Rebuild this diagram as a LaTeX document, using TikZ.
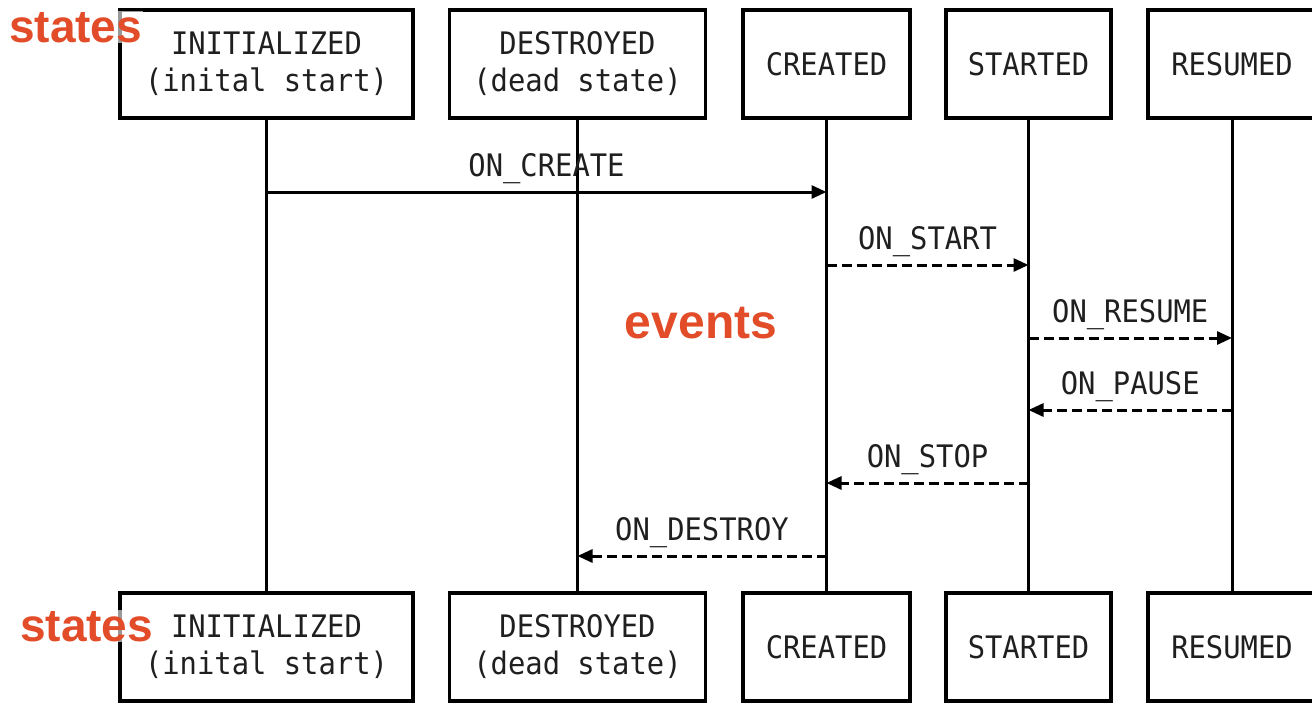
\documentclass[tikz,border=0pt]{standalone}
\usepackage{fontspec}
\setmainfont{Liberation Sans}
\setmonofont{DejaVu Sans Mono}
\newfontfamily\boxfont[FakeStretch=0.93]{DejaVu Sans Mono}
\usepackage{xcolor}
\usetikzlibrary{arrows.meta,positioning}

\definecolor{tagred}{RGB}{226,76,40}

\begin{document}
\begin{tikzpicture}[
  x=1pt, y=-1pt,
  state/.style={draw, line width=3.4pt, minimum height=108pt, inner sep=0pt, align=center,
    text=black!88, font=\boxfont\fontsize{31}{37}\selectfont},
  life/.style={line width=3pt},
  msg/.style={line width=3pt, -{Triangle[length=15pt,width=13pt]}},
  back/.style={msg, dash pattern=on 10pt off 5pt},
  lbl/.style={midway, anchor=base, yshift=16pt, inner sep=0pt, text=black!88,
    font=\boxfont\fontsize{31}{37}\selectfont},
  tag/.style={anchor=base west, inner sep=1pt, fill=white, fill opacity=0.6, text opacity=1,
    text=tagred, font=\bfseries\fontsize{46}{46}\selectfont}
]
\useasboundingbox (0,0) rectangle (1312,702);

% states on top
\node[state, minimum width=293pt] (init) at (266.5,64) {INITIALIZED\\(inital start)};
\node[state, minimum width=256pt] (dest) at (577.5,64) {DESTROYED\\(dead state)};
\node[state, minimum width=167pt] (created) at (826.5,64) {CREATED};
\node[state, minimum width=165pt] (started) at (1028.5,64) {STARTED};
\node[state, minimum width=168pt] (resumed) at (1232,64) {RESUMED};

% the same states at the bottom
\node[state, minimum width=293pt] (initB) at (266.5,647) {INITIALIZED\\(inital start)};
\node[state, minimum width=256pt] (destB) at (577.5,647) {DESTROYED\\(dead state)};
\node[state, minimum width=167pt] (createdB) at (826.5,647) {CREATED};
\node[state, minimum width=165pt] (startedB) at (1028.5,647) {STARTED};
\node[state, minimum width=168pt] (resumedB) at (1232,647) {RESUMED};

% lifelines
\draw[life] (init.south) -- (initB.north);
\draw[life] (dest.south) -- (destB.north);
\draw[life] (created.south) -- (createdB.north);
\draw[life] (started.south) -- (startedB.north);
\draw[life] (resumed.south) -- (resumedB.north);

% events
\draw[msg] (init.south |- 0,192) -- node[lbl] {ON\_CREATE} (created.south |- 0,192);
\draw[back] (created.south |- 0,265) -- node[lbl] {ON\_START} (started.south |- 0,265);
\draw[back] (started.south |- 0,338) -- node[lbl] {ON\_RESUME} (resumed.south |- 0,338);
\draw[back] (resumed.south |- 0,410) -- node[lbl] {ON\_PAUSE} (started.south |- 0,410);
\draw[back] (started.south |- 0,483) -- node[lbl] {ON\_STOP} (created.south |- 0,483);
\draw[back] (created.south |- 0,556) -- node[lbl] {ON\_DESTROY} (dest.south |- 0,556);

% call-outs
\node[tag] (statesTop) at (8,42) {states};
\node[tag] (statesBot) at (19,641) {states};
\node[tag, anchor=base, font=\bfseries\fontsize{48}{48}\selectfont] (events) at (701,338) {events};
\end{tikzpicture}
\end{document}
